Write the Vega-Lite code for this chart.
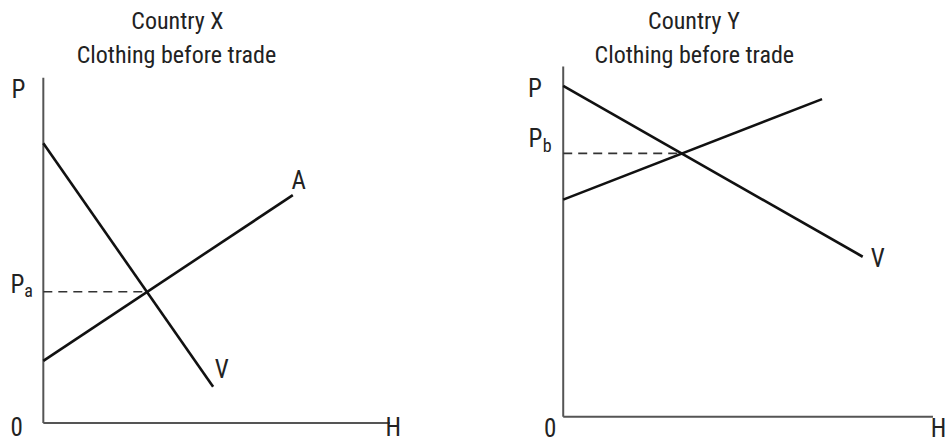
{
  "$schema": "https://vega.github.io/schema/vega-lite/v6.json",
  "padding": 0,
  "spacing": 0,
  "config": {"view": {"stroke": null}, "text": {"font": "Roboto Condensed, DejaVu Sans Condensed, Liberation Sans Narrow, Roboto, sans-serif", "color": "#222"}},
  "hconcat": [
    {
      "width": 473,
      "height": 441,
      "encoding": {
        "x": {"field": "u", "type": "quantitative", "scale": {"domain": [-1.25, 12.4], "nice": false, "zero": false}, "axis": null},
        "y": {"field": "v", "type": "quantitative", "scale": {"domain": [-0.52, 12.25], "nice": false, "zero": false}, "axis": null}
      },
      "layer": [
        {
          "data": {"values": [{"u": 0, "v": 0, "u2": 0, "v2": 10}, {"u": 0, "v": 0, "u2": 10, "v2": 0}]},
          "mark": {"type": "rule", "color": "#555", "strokeWidth": 2},
          "encoding": {"x2": {"field": "u2"}, "y2": {"field": "v2"}}
        },
        {
          "data": {"values": [{"u": 0, "v": 3.8, "u2": 2.99, "v2": 3.8}]},
          "mark": {"type": "rule", "color": "#333", "strokeWidth": 1.6, "strokeDash": [9, 6]},
          "encoding": {"x2": {"field": "u2"}, "y2": {"field": "v2"}}
        },
        {
          "data": {"values": [{"curve": "V", "u": 0, "v": 8.1, "u2": 4.9, "v2": 1.05}, {"curve": "A", "u": 0, "v": 1.8, "u2": 7.2, "v2": 6.6}]},
          "mark": {"type": "rule", "color": "#111", "strokeWidth": 2.6},
          "encoding": {"x2": {"field": "u2"}, "y2": {"field": "v2"}}
        },
        {
          "data": {"values": [
            {"text": "P", "u": -0.72, "v": 9.41},
            {"text": "P", "u": -0.745, "v": 3.765},
            {"text": "0", "u": -0.77, "v": -0.376},
            {"text": "H", "u": 10.1, "v": -0.376},
            {"text": "A", "u": 7.37, "v": 6.78},
            {"text": "V", "u": 5.15, "v": 1.3}
          ]},
          "mark": {"type": "text", "fontSize": 25, "align": "center", "baseline": "alphabetic"},
          "encoding": {"text": {"field": "text"}}
        },
        {
          "data": {"values": [{"text": "a", "u": -0.427, "v": 3.65}]},
          "mark": {"type": "text", "fontSize": 18, "align": "center", "baseline": "alphabetic"},
          "encoding": {"text": {"field": "text"}}
        },
        {
          "data": {"values": [
            {"text": "Country X", "u": 3.87, "v": 11.41},
            {"text": "Clothing before trade", "u": 3.84, "v": 10.43}
          ]},
          "mark": {"type": "text", "fontSize": 24, "align": "center", "baseline": "alphabetic"},
          "encoding": {"text": {"field": "text"}}
        }
      ]
    },
    {
      "width": 474,
      "height": 441,
      "encoding": {
        "x": {"field": "u", "type": "quantitative", "scale": {"domain": [-2.44, 10.38], "nice": false, "zero": false}, "axis": null},
        "y": {"field": "v", "type": "quantitative", "scale": {"domain": [-0.69, 11.9], "nice": false, "zero": false}, "axis": null}
      },
      "layer": [
        {
          "data": {"values": [{"u": 0, "v": 0, "u2": 0, "v2": 10}, {"u": 0, "v": 0, "u2": 10, "v2": 0}]},
          "mark": {"type": "rule", "color": "#555", "strokeWidth": 2},
          "encoding": {"x2": {"field": "u2"}, "y2": {"field": "v2"}}
        },
        {
          "data": {"values": [{"u": 0, "v": 7.52, "u2": 3.21, "v2": 7.52}]},
          "mark": {"type": "rule", "color": "#333", "strokeWidth": 1.6, "strokeDash": [9, 6]},
          "encoding": {"x2": {"field": "u2"}, "y2": {"field": "v2"}}
        },
        {
          "data": {"values": [{"curve": "V", "u": 0, "v": 9.45, "u2": 8.1, "v2": 4.57}, {"curve": "A", "u": 0, "v": 6.2, "u2": 7.0, "v2": 9.07}]},
          "mark": {"type": "rule", "color": "#111", "strokeWidth": 2.6},
          "encoding": {"x2": {"field": "u2"}, "y2": {"field": "v2"}}
        },
        {
          "data": {"values": [
            {"text": "P", "u": -0.766, "v": 9.13},
            {"text": "P", "u": -0.752, "v": 7.7},
            {"text": "0", "u": -0.352, "v": -0.562},
            {"text": "H", "u": 10.15, "v": -0.562},
            {"text": "V", "u": 8.51, "v": 4.28}
          ]},
          "mark": {"type": "text", "fontSize": 25, "align": "center", "baseline": "alphabetic"},
          "encoding": {"text": {"field": "text"}}
        },
        {
          "data": {"values": [{"text": "b", "u": -0.433, "v": 7.57}]},
          "mark": {"type": "text", "fontSize": 18, "align": "center", "baseline": "alphabetic"},
          "encoding": {"text": {"field": "text"}}
        },
        {
          "data": {"values": [
            {"text": "Country Y", "u": 3.535, "v": 11.07},
            {"text": "Clothing before trade", "u": 3.546, "v": 10.1}
          ]},
          "mark": {"type": "text", "fontSize": 24, "align": "center", "baseline": "alphabetic"},
          "encoding": {"text": {"field": "text"}}
        }
      ]
    }
  ]
}
